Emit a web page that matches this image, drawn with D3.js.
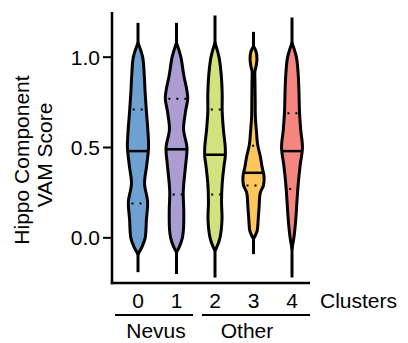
<!DOCTYPE html>
<html lang="en">
<head>
  <meta charset="UTF-8">
  <title>Hippo Component VAM Score</title>
  <script src="https://d3js.org/d3.v7.min.js"></script>
  <style>
    body { margin: 0; background: #fff; }
    text { font-family: "Liberation Sans", Arial, sans-serif; fill: #000; }
  </style>
</head>
<body>
  <svg id="chart" width="408" height="343"></svg>
  <script>
    // clusters and their groups
    const clusters = ["0", "1", "2", "3", "4"];
    const colors = ["#6fa0d2", "#a99dd1", "#d2e27d", "#fdc75c", "#f5857f"];
    const yTicks = [0.0, 0.5, 1.0];

    // density profiles: [score, relative density]
    const dens0 = [[1.08, 0], [1.0, 5], [0.9, 6.7], [0.8, 7.7], [0.7, 9], [0.6, 10.5], [0.5, 11.3],
                   [0.4, 9.3], [0.3, 7], [0.2, 10.3], [0.1, 9], [0.0, 7.7], [-0.05, 4.3], [-0.09, 0]];
    const dens1 = [[1.08, 0], [1.0, 4.7], [0.9, 7.8], [0.82, 11], [0.77, 12], [0.7, 9.7], [0.6, 7.6],
                   [0.5, 11.2], [0.4, 9.7], [0.3, 7.8], [0.25, 7.2], [0.15, 7.8], [0.05, 7.5],
                   [0.0, 6.3], [-0.05, 3], [-0.08, 0]];
    const dens2 = [[1.08, 0], [1.0, 4.3], [0.9, 6.7], [0.8, 7.7], [0.7, 7.7], [0.6, 9], [0.5, 11],
                   [0.45, 11], [0.4, 9.7], [0.3, 7.7], [0.2, 7], [0.1, 7.5], [0.0, 5.3],
                   [-0.05, 2], [-0.07, 0]];
    const dens3 = [[1.06, 0], [1.03, 2.8], [0.99, 3.7], [0.95, 2.8], [0.92, 1.5], [0.86, 1.6],
                   [0.76, 1.8], [0.67, 2], [0.58, 3.3], [0.52, 4.3], [0.45, 7.3], [0.39, 9.3],
                   [0.34, 11.3], [0.29, 10.7], [0.25, 7.3], [0.17, 6], [0.1, 5], [0.04, 4],
                   [0.01, 1.7], [-0.005, 0]];
    const dens4 = [[1.08, 0], [1.0, 4.7], [0.9, 6.7], [0.8, 7.5], [0.7, 8], [0.6, 9.3], [0.5, 11.2],
                   [0.4, 8.7], [0.3, 6.7], [0.2, 5.3], [0.1, 4], [0.0, 2], [-0.06, 0]];
    const densities = [dens0, dens1, dens2, dens3, dens4];

    // summary statistics per cluster
    const medians = [0.48, 0.49, 0.46, 0.36, 0.48];
    const q1 = [0.19, 0.24, 0.24, 0.29, 0.27];
    const q3 = [0.71, 0.77, 0.71, 0.51, 0.69];
    const mins = [-0.19, -0.2, -0.22, -0.09, -0.22];
    const maxs = [1.19, 1.19, 1.23, 1.14, 1.22];

    const groupNames = ["Nevus", "Other"];

    const svg = d3.select("#chart");

    const y = d3.scaleLinear().domain([-0.25, 1.25]).range([283, 12]);
    const x = d3.scalePoint().domain(clusters).range([138, 292]);
    const w = d3.scaleLinear().domain([0, 12]).range([0, 11.2]);

    // axes lines
    svg.append("line")
      .attr("x1", 112).attr("x2", 112)
      .attr("y1", y(1.25)).attr("y2", y(-0.25) + 1.25)
      .attr("stroke", "#000").attr("stroke-width", 2.5);
    svg.append("line")
      .attr("x1", 110.75).attr("x2", 310)
      .attr("y1", y(-0.25)).attr("y2", y(-0.25))
      .attr("stroke", "#000").attr("stroke-width", 2.5);

    // y ticks
    const yt = svg.append("g");
    yTicks.forEach(t => {
      yt.append("line")
        .attr("x1", 103).attr("x2", 112)
        .attr("y1", y(t)).attr("y2", y(t))
        .attr("stroke", "#000").attr("stroke-width", 2);
      yt.append("text")
        .attr("x", 100).attr("y", y(t))
        .attr("dy", "0.36em")
        .attr("text-anchor", "end")
        .attr("font-size", 21)
        .text(t.toFixed(1));
    });

    // y label
    svg.append("text")
      .attr("transform", "translate(29,160) rotate(-90)")
      .attr("text-anchor", "middle")
      .attr("font-size", 21)
      .text("Hippo Component");
    svg.append("text")
      .attr("transform", "translate(52,155) rotate(-90)")
      .attr("text-anchor", "middle")
      .attr("font-size", 21)
      .text("VAM Score");

    function halfWidth(dens, v) {
      for (let i = 0; i < dens.length - 1; i++) {
        const a = dens[i], b = dens[i + 1];
        if (v <= a[0] && v >= b[0]) {
          const t = (a[0] - v) / (a[0] - b[0]);
          return a[1] + t * (b[1] - a[1]);
        }
      }
      return 0;
    }

    // violins
    clusters.forEach((c, i) => {
      const cx = x(c);
      const g = svg.append("g");
      g.append("line")
        .attr("x1", cx).attr("x2", cx)
        .attr("y1", y(maxs[i])).attr("y2", y(mins[i]))
        .attr("stroke", "#000").attr("stroke-width", 3);

      const area = d3.area()
        .curve(d3.curveCatmullRom)
        .y(d => y(d[0]))
        .x0(d => cx - w(d[1]))
        .x1(d => cx + w(d[1]));
      g.append("path")
        .attr("d", area(densities[i]))
        .attr("fill", colors[i])
        .attr("stroke", "#000")
        .attr("stroke-width", 3)
        .attr("stroke-linejoin", "round");

      const hm = w(halfWidth(densities[i], medians[i]));
      g.append("line")
        .attr("x1", cx - hm).attr("x2", cx + hm)
        .attr("y1", y(medians[i])).attr("y2", y(medians[i]))
        .attr("stroke", "#000").attr("stroke-width", 2.5);

      [q1[i], q3[i]].forEach(q => {
        const hq = w(halfWidth(densities[i], q));
        g.append("line")
          .attr("x1", cx - hq).attr("x2", cx + hq)
          .attr("y1", y(q)).attr("y2", y(q))
          .attr("stroke", "#000").attr("stroke-width", 2)
          .attr("stroke-dasharray", "2,6")
          .attr("stroke-dashoffset", -3);
      });
    });

    // x labels
    clusters.forEach(c => {
      svg.append("text")
        .attr("x", x(c)).attr("y", 308)
        .attr("text-anchor", "middle")
        .attr("font-size", 21)
        .text(c);
    });
    svg.append("text")
      .attr("x", 320).attr("y", 308)
      .attr("font-size", 21)
      .text("Clusters");

    // group brackets
    const groupSpans = [[115, 193], [202, 310]];
    const groupLabelX = [156, 247];
    groupNames.forEach((n, i) => {
      svg.append("line")
        .attr("x1", groupSpans[i][0]).attr("x2", groupSpans[i][1])
        .attr("y1", 315).attr("y2", 315)
        .attr("stroke", "#000").attr("stroke-width", 2);
      svg.append("text")
        .attr("x", groupLabelX[i]).attr("y", 338)
        .attr("text-anchor", "middle")
        .attr("font-size", 21)
        .text(n);
    });
  </script>
</body>
</html>
